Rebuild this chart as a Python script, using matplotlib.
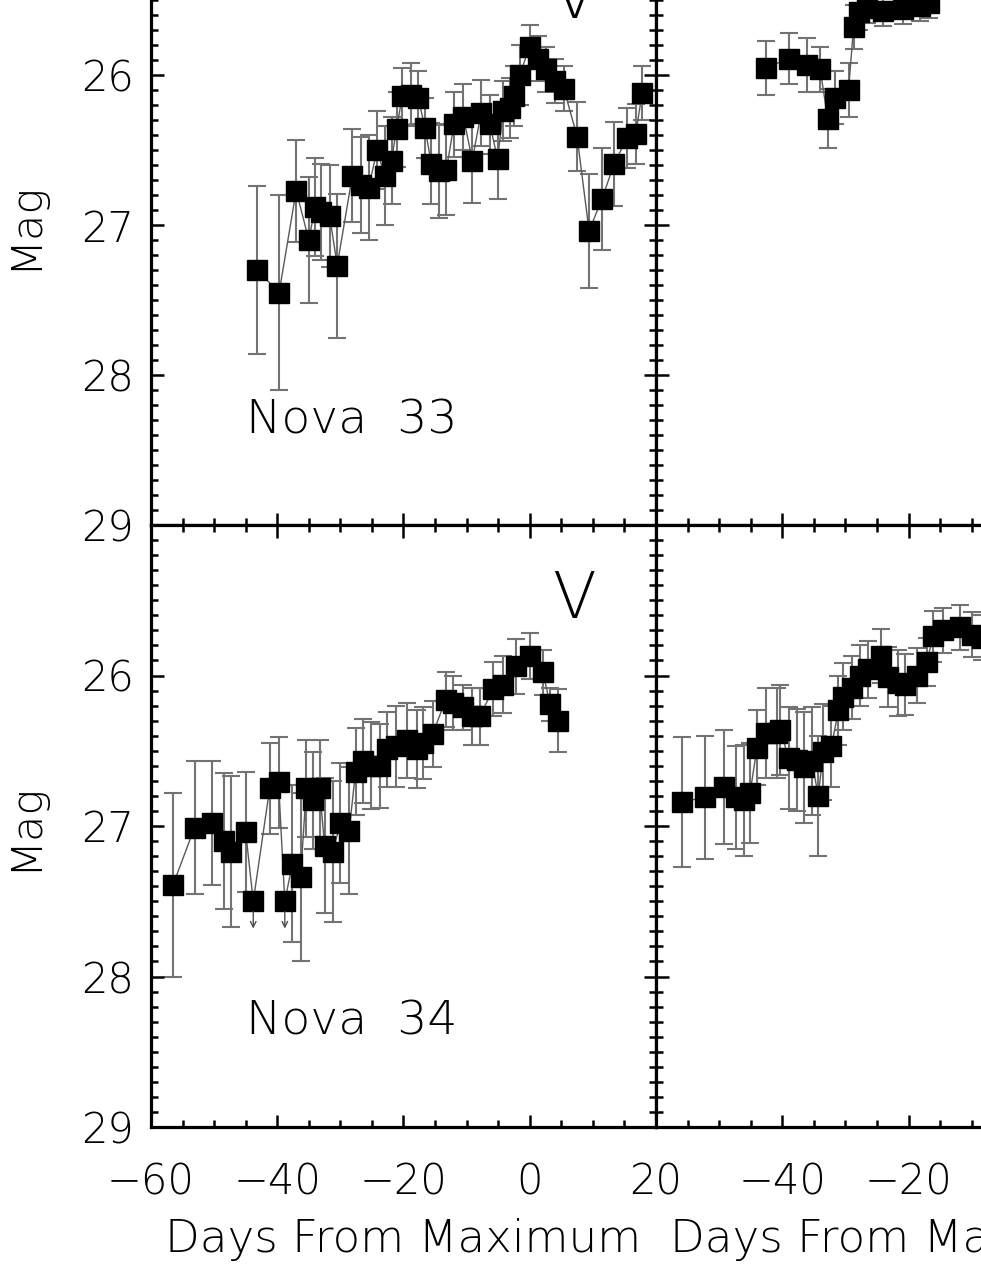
import numpy as np
import matplotlib.pyplot as plt
from matplotlib.ticker import MultipleLocator

plt.rcParams['font.family'] = ['DejaVu Sans']
plt.rcParams['font.weight'] = 'light'
plt.rcParams['axes.labelweight'] = 'light'

# Nova 33 (top left)
days33 = [-43.2, -39.7, -37.0, -35.0, -34.0, -33.0, -31.7, -30.5, -28.1, -26.8, -25.5,
          -24.2, -23.0, -21.9, -21.1, -20.2, -18.8, -17.7, -16.6, -15.6, -14.4, -13.2,
          -12.0, -10.5, -9.1, -7.7, -6.3, -5.1, -4.2, -3.2, -2.5, -1.6, 0.0, 1.3, 2.6,
          4.0, 5.4, 7.5, 9.4, 11.4, 13.4, 15.4, 16.8, 17.8]
mag33 = [27.30, 27.45, 26.77, 27.10, 26.88, 26.91, 26.94, 27.27, 26.67, 26.73, 26.75,
         26.50, 26.67, 26.57, 26.36, 26.14, 26.13, 26.15, 26.35, 26.59, 26.64, 26.63,
         26.33, 26.28, 26.57, 26.25, 26.33, 26.56, 26.24, 26.22, 26.14, 26.00, 25.81,
         25.89, 25.96, 26.04, 26.09, 26.41, 27.04, 26.83, 26.59, 26.42, 26.39, 26.12]
err33 = [0.56, 0.65, 0.34, 0.42, 0.33, 0.32, 0.34, 0.48, 0.31, 0.32, 0.35,
         0.26, 0.33, 0.29, 0.25, 0.19, 0.21, 0.18, 0.20, 0.27, 0.31, 0.30,
         0.22, 0.22, 0.28, 0.22, 0.20, 0.27, 0.20, 0.20, 0.20, 0.20, 0.14,
         0.15, 0.15, 0.15, 0.15, 0.23, 0.38, 0.34, 0.28, 0.20, 0.20, 0.18]

# Nova 34 (bottom left); err 0 marks an upper limit
days34 = [-56.5, -53.1, -50.4, -48.5, -47.3, -45.0, -43.8, -41.2, -39.8, -38.8, -37.6,
          -36.3, -35.4, -34.3, -33.3, -32.5, -31.2, -30.0, -28.6, -27.6, -26.4, -25.1,
          -23.8, -22.6, -21.2, -19.5, -17.9, -16.9, -15.4, -13.3, -12.1, -10.6, -9.2,
          -7.9, -5.8, -4.3, -2.2, 0.0, 2.1, 3.2, 4.5]
mag34 = [27.39, 27.01, 26.98, 27.10, 27.17, 27.04, 27.50, 26.75, 26.71, 27.50, 27.25,
         27.34, 26.75, 26.83, 26.75, 27.13, 27.17, 26.98, 27.03, 26.64, 26.57, 26.60,
         26.60, 26.49, 26.47, 26.43, 26.49, 26.45, 26.39, 26.16, 26.18, 26.21, 26.27,
         26.27, 26.09, 26.06, 25.94, 25.87, 25.98, 26.19, 26.30]
err34 = [0.61, 0.44, 0.41, 0.45, 0.50, 0.40, 0.0, 0.30, 0.30, 0.0, 0.52,
         0.56, 0.32, 0.32, 0.32, 0.45, 0.47, 0.40, 0.42, 0.29, 0.28, 0.29,
         0.28, 0.25, 0.27, 0.25, 0.26, 0.24, 0.22, 0.18, 0.18, 0.15, 0.19,
         0.19, 0.18, 0.19, 0.18, 0.15, 0.15, 0.11, 0.21]

# top right panel
days_tr = [-42.5, -38.9, -36.1, -34.0, -32.8, -31.6, -29.5, -28.7, -27.9, -26.6,
           -24.0, -20.9, -18.2, -16.7]
mag_tr = [25.95, 25.89, 25.93, 25.96, 26.29, 26.15, 26.10, 25.68, 25.58, 25.55,
          25.57, 25.56, 25.54, 25.52]
err_tr = [0.18, 0.17, 0.18, 0.15, 0.20, 0.18, 0.18, 0.15, 0.12, 0.10,
          0.10, 0.10, 0.10, 0.10]

# bottom right panel
days_br = [-55.9, -52.2, -49.3, -47.3, -46.1, -45.1, -44.0, -42.5, -40.9, -40.3, -39.0,
           -37.7, -36.5, -35.3, -34.3, -33.5, -32.2, -31.1, -30.3, -29.0, -27.7, -26.4,
           -24.3, -23.2, -21.6, -20.5, -18.7, -17.1, -16.1, -14.5, -11.8, -10.0, -8.3]
mag_br = [26.84, 26.81, 26.74, 26.81, 26.83, 26.78, 26.48, 26.38, 26.38, 26.36, 26.55,
          26.56, 26.61, 26.57, 26.80, 26.51, 26.47, 26.23, 26.14, 26.08, 26.00, 25.96,
          25.87, 26.01, 26.05, 26.06, 26.00, 25.91, 25.74, 25.70, 25.68, 25.73, 25.75]
err_br = [0.43, 0.41, 0.38, 0.34, 0.37, 0.33, 0.25, 0.30, 0.30, 0.30, 0.34,
          0.34, 0.37, 0.36, 0.40, 0.32, 0.27, 0.23, 0.22, 0.21, 0.20, 0.19,
          0.18, 0.20, 0.22, 0.20, 0.18, 0.16, 0.17, 0.15, 0.15, 0.15, 0.15]

W, H = 981, 1269
fig = plt.figure(figsize=(W / 100, H / 100), dpi=100)


def px_axes(x0, y0, x1, y1):
    # axes rectangle given in pixel coordinates of the image (y downward)
    return fig.add_axes([x0 / W, (H - y1) / H, (x1 - x0) / W, (y1 - y0) / H])


def panel(ax, d, m, e, name=None, left=True, bottom=True):
    d, m, e = np.array(d), np.array(m), np.array(e)
    ax.plot(d, m, '-', color='0.35', lw=1.0, zorder=2)
    ok = e > 0
    ax.errorbar(d[ok], m[ok], yerr=e[ok], fmt='none', ecolor='0.45',
                elinewidth=1.5, capsize=6.5, capthick=1.5, zorder=1)
    ax.plot(d, m, 's', color='black', ms=14.5, zorder=3)
    for x, y in zip(d[~ok], m[~ok]):
        ax.annotate('', xy=(x, y + 0.2), xytext=(x, y + 0.05),
                    arrowprops=dict(arrowstyle='->', color='0.3', lw=1.0))
    ax.set_xlim(-60, 20)
    ax.set_ylim(29, 25)
    ax.xaxis.set_major_locator(MultipleLocator(20))
    ax.xaxis.set_minor_locator(MultipleLocator(5))
    ax.yaxis.set_major_locator(MultipleLocator(1))
    ax.yaxis.set_minor_locator(MultipleLocator(0.1))
    ax.tick_params(which='both', direction='in', top=True, right=True, width=1.8)
    ax.tick_params(which='major', length=9)
    ax.tick_params(which='minor', length=5)
    ax.tick_params(axis='both', labelsize=30)
    ax.tick_params(axis='x', pad=25)
    ax.tick_params(axis='y', pad=12)
    for s in ax.spines.values():
        s.set_linewidth(2.3)
    ax.text(7, 25.5, 'V', fontsize=46, ha='center', va='center')
    if name:
        ax.text(-45, 28.3, name, fontsize=34, ha='left', va='center')
    if left:
        ax.set_yticks([25, 26, 27, 28, 29])
        ax.set_yticklabels(['', '26', '27', '28', '29'])
        ax.set_ylabel('Mag', fontsize=31, labelpad=27)
    else:
        ax.set_yticklabels([])
    if bottom:
        ax.set_xlabel('Days From Maximum', fontsize=32.5, labelpad=11)
        if not left:
            ax.set_xticks([-60, -40, -20, 0, 20])
            ax.set_xticklabels(['', '\u221240', '\u221220', '0', '20'])
    else:
        ax.set_xticklabels([])


ax1 = px_axes(151, -75, 656, 525)
ax2 = px_axes(656, -75, 1161, 525)
ax3 = px_axes(151, 525, 656, 1127)
ax4 = px_axes(656, 525, 1161, 1127)

panel(ax1, days33, mag33, err33, name='Nova  33', left=True, bottom=False)
panel(ax2, days_tr, mag_tr, err_tr, left=False, bottom=False)
panel(ax3, days34, mag34, err34, name='Nova  34', left=True, bottom=True)
panel(ax4, days_br, mag_br, err_br, left=False, bottom=True)

fig.savefig('out.png', dpi=100)
